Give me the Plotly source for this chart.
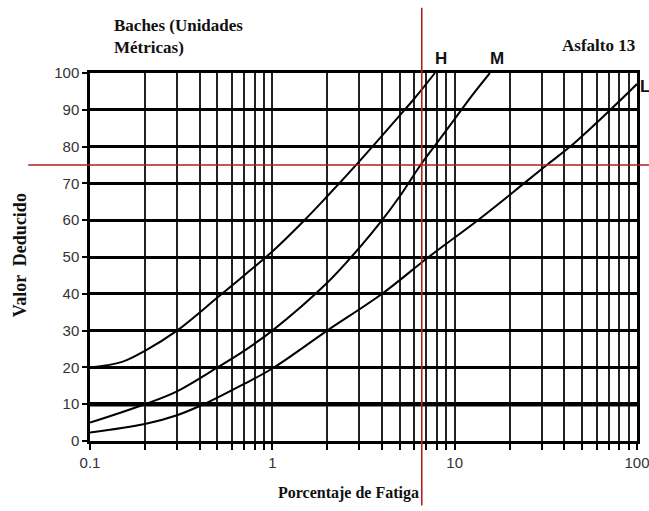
import math
import plotly.graph_objects as go

# Curve data (x = Porcentaje de Fatiga, y = Valor Deducido)
h_x = [0.1, 0.15, 0.2, 0.3, 0.5, 0.7, 1.0, 1.5, 2.0, 3.0, 4.0, 5.0, 6.0, 7.8]
h_y = [20, 21.5, 24.5, 30, 39, 45, 51.5, 60, 66.5, 76, 83, 88.5, 93, 100]

m_x = [0.1, 0.2, 0.3, 0.5, 0.7, 1.0, 2.0, 3.0, 4.0, 5.0, 6.5, 8.0, 10.0, 12.5, 15.6]
m_y = [5, 10, 13.5, 20, 24.5, 30, 43, 52.5, 60, 66.5, 75, 81, 87.5, 94, 100]

l_x = [0.1, 0.2, 0.3, 0.4, 0.5, 0.7, 1.0, 2.0, 4.0, 7.2, 13.4, 24, 32, 43, 68, 100]
l_y = [2.3, 4.6, 7, 9.5, 11.8, 15.5, 19.7, 30, 40, 50, 60, 70, 75, 80, 89, 97]

curve_names = ["H", "M", "L"]

x_tickvals = [m * 10 ** e for e in (-1, 0, 1) for m in range(1, 10)] + [100]
x_ticktext = [("0.1" if v == 0.1 else "1" if v == 1 else "10" if v == 10 else "100" if v == 100 else "")
              for v in x_tickvals]
y_tickvals = list(range(0, 101, 10))

ref_x = 6.6   # red vertical reference
ref_y = 75    # red horizontal reference

fig = go.Figure()
for xs, ys, nm in zip([h_x, m_x, l_x], [h_y, m_y, l_y], curve_names):
    fig.add_trace(go.Scatter(x=xs, y=ys, mode="lines", name=nm,
                             line=dict(color="black", width=2, shape="spline", smoothing=1.0),
                             showlegend=False, hoverinfo="skip"))

# curve labels
label_pos = {"H": (6, 15, "center"), "M": (7, 15, "center"), "L": (1, -2, "left")}
for xs, ys, nm in zip([h_x, m_x, l_x], [h_y, m_y, l_y], curve_names):
    dx, dy, anc = label_pos[nm]
    fig.add_annotation(x=math.log10(xs[-1]), y=ys[-1], text="<b>" + nm + "</b>", showarrow=False,
                       xshift=dx, yshift=dy, xanchor=anc,
                       font=dict(family="Liberation Sans", size=17, color="#111"))

# thicker 10 line
fig.add_shape(type="line", xref="paper", yref="y", x0=0, x1=1, y0=10, y1=10,
              line=dict(color="black", width=4.5), layer="below")

# red reference lines
fig.add_shape(type="line", xref="x", yref="paper", x0=ref_x, x1=ref_x, y0=-0.175, y1=1.177,
              line=dict(color="#b02020", width=1.6))
fig.add_shape(type="line", xref="paper", yref="y", x0=-0.113, x1=1.03, y0=ref_y, y1=ref_y,
              line=dict(color="#b02020", width=1.6))

serif = "Liberation Serif"
fig.add_annotation(xref="paper", yref="paper", x=0.04, y=1.16, xanchor="left", yanchor="top",
                   text="<b>Baches (Unidades<br>Métricas)</b>", showarrow=False, align="left",
                   font=dict(family=serif, size=17, color="#111"))
fig.add_annotation(xref="paper", yref="paper", x=0.929, y=1.076, xanchor="center", yanchor="middle",
                   text="<b>Asfalto 13</b>", showarrow=False,
                   font=dict(family=serif, size=17, color="#111"))
fig.add_annotation(xref="paper", yref="paper", x=-0.128, y=0.505, xanchor="center", yanchor="middle",
                   text="<b>Valor  Deducido</b>", showarrow=False, textangle=-90,
                   font=dict(family=serif, size=18, color="#111"))
fig.add_annotation(xref="paper", yref="paper", x=0.473, y=-0.141, xanchor="center", yanchor="middle",
                   text="<b>Porcentaje de Fatiga</b>", showarrow=False,
                   font=dict(family=serif, size=16, color="#111"))

fig.update_xaxes(type="log", range=[-1, 2], tickvals=x_tickvals, ticktext=x_ticktext,
                 showgrid=True, gridcolor="#222", gridwidth=1.8,
                 showline=True, linecolor="black", linewidth=2.5, mirror=True,
                 ticks="outside", ticklen=6, tickwidth=1.5, tickcolor="black",
                 tickfont=dict(family="Liberation Sans", size=15, color="#333"),
                 ticklabeloverflow="allow",
                 zeroline=False, automargin=False)
fig.update_yaxes(range=[0, 100], tickvals=y_tickvals,
                 showgrid=True, gridcolor="black", gridwidth=2.8,
                 showline=True, linecolor="black", linewidth=2.5, mirror=True,
                 ticks="outside", ticklen=5, tickwidth=1.5, tickcolor="black",
                 tickfont=dict(family="Liberation Sans", size=15, color="#333"),
                 zeroline=False, automargin=False)

fig.update_layout(width=649, height=511, margin=dict(l=90, r=12, t=73, b=70, autoexpand=False),
                  paper_bgcolor="white", plot_bgcolor="white")

fig.write_html("out.html")
